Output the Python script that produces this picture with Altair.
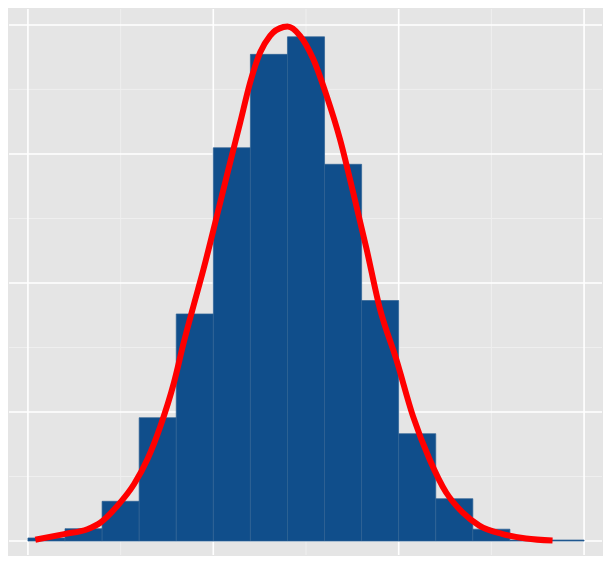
import altair as alt
import pandas as pd

# Histogram bins (density scale)
bin_start = [0.0, 0.2, 0.4, 0.6, 0.8, 1.0, 1.2, 1.4, 1.6, 1.8, 2.0, 2.2, 2.4, 2.6, 2.8]
bin_end = [0.2, 0.4, 0.6, 0.8, 1.0, 1.2, 1.4, 1.6, 1.8, 2.0, 2.2, 2.4, 2.6, 2.8, 3.0]
density = [0.006, 0.024, 0.077, 0.239, 0.440, 0.762, 0.943, 0.977, 0.730, 0.466,
           0.208, 0.082, 0.023, 0.002, 0.002]

# Red curve points
curve_x = [0.04, 0.195, 0.321, 0.392, 0.482, 0.572, 0.644, 0.715, 0.787, 0.840,
           0.885, 0.948, 1.020, 1.091, 1.145, 1.199, 1.253, 1.306, 1.378, 1.400,
           1.468, 1.539, 1.611, 1.683, 1.754, 1.826, 1.898, 1.988, 2.077, 2.167,
           2.256, 2.346, 2.435, 2.561, 2.687, 2.830]
curve_y = [0.0025, 0.0135, 0.023, 0.036, 0.068, 0.110, 0.158, 0.223, 0.306, 0.384,
           0.445, 0.528, 0.631, 0.734, 0.811, 0.889, 0.947, 0.979, 0.996, 0.997,
           0.979, 0.934, 0.863, 0.779, 0.676, 0.567, 0.451, 0.351, 0.242, 0.158,
           0.094, 0.055, 0.030, 0.0135, 0.005, 0.001]

# Grid lines
x_major = [0, 1, 2, 3]
x_minor = [0.5, 1.5, 2.5]
y_major = [0, 0.25, 0.5, 0.75, 1.0]
y_minor = [0.125, 0.375, 0.625, 0.875]

bars = pd.DataFrame({"start": bin_start, "end": bin_end, "density": density})
curve = pd.DataFrame({"x": curve_x, "y": curve_y})

xs = alt.Scale(domain=[-0.10215, 3.09677], nice=False, zero=False)
ys = alt.Scale(domain=[-0.02703, 1.03089], nice=False, zero=False)

vmin = alt.Chart(pd.DataFrame({"v": x_minor})).mark_rule(color="#efefef", strokeWidth=1).encode(
    x=alt.X("v:Q", scale=xs, axis=None))
hmin = alt.Chart(pd.DataFrame({"v": y_minor})).mark_rule(color="#efefef", strokeWidth=1).encode(
    y=alt.Y("v:Q", scale=ys, axis=None))
vmaj = alt.Chart(pd.DataFrame({"v": x_major})).mark_rule(color="#ffffff", strokeWidth=1.6).encode(
    x=alt.X("v:Q", scale=xs, axis=None))
hmaj = alt.Chart(pd.DataFrame({"v": y_major})).mark_rule(color="#ffffff", strokeWidth=1.6).encode(
    y=alt.Y("v:Q", scale=ys, axis=None))

hist = alt.Chart(bars).mark_rect(color="#104E8B", stroke="#2e6194", strokeWidth=0.7).encode(
    x=alt.X("start:Q", scale=xs, axis=None),
    x2="end:Q",
    y=alt.Y("density:Q", scale=ys, axis=None),
    y2=alt.datum(0),
)

line = alt.Chart(curve).mark_line(color="#ff0000", strokeWidth=6, interpolate="monotone").encode(
    x=alt.X("x:Q", scale=xs, axis=None),
    y=alt.Y("y:Q", scale=ys, axis=None),
)

chart = alt.layer(vmin, hmin, vmaj, hmaj, hist, line).properties(
    width=595, height=548, padding=0, background="#e5e5e5",
    autosize=alt.AutoSizeParams(type="fit", contains="padding"),
).configure_view(stroke=None, fill="#e5e5e5")

chart.save("out.html", embed_options={"renderer": "svg", "actions": False})
